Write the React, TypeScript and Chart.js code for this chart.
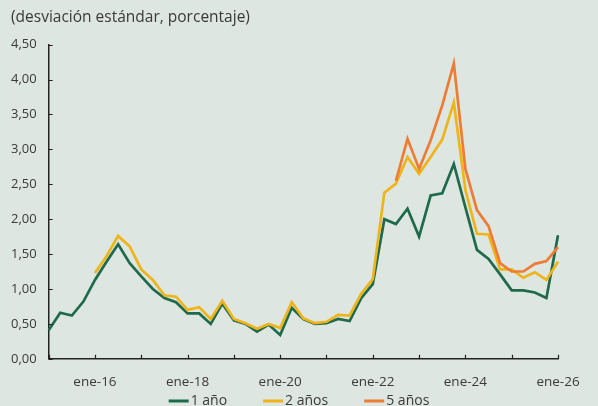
import React, { useEffect, useRef } from "react";
import { Chart, registerables } from "chart.js";

Chart.register(...registerables);

const years = ["15", "16", "17", "18", "19", "20", "21", "22", "23", "24", "25", "26"];
const months = ["ene", "abr", "jul", "oct"];
const categories: string[] = [];
years.forEach((y) => months.forEach((m) => categories.push(`${m}-${y}`)));
categories.splice(45); // ene-15 ... ene-26

const seriesNames = ["1 año", "2 años", "5 años"];

const oneYear = [
  0.41, 0.66, 0.62, 0.82, 1.13, 1.39, 1.64, 1.37, 1.18, 1.0, 0.87, 0.81,
  0.65, 0.65, 0.5, 0.79, 0.55, 0.5, 0.39, 0.49, 0.34, 0.73, 0.57, 0.5,
  0.51, 0.57, 0.54, 0.87, 1.07, 2.0, 1.93, 2.15, 1.75, 2.34, 2.37, 2.79,
  2.17, 1.56, 1.43, 1.21, 0.98, 0.98, 0.95, 0.87, 1.77,
];

const twoYears = [
  null, null, null, null, 1.23, 1.47, 1.76, 1.61, 1.28, 1.13, 0.91, 0.89,
  0.7, 0.74, 0.57, 0.83, 0.57, 0.51, 0.43, 0.5, 0.44, 0.81, 0.58, 0.51,
  0.53, 0.63, 0.62, 0.93, 1.14, 2.38, 2.51, 2.89, 2.65, 2.89, 3.14, 3.67,
  2.42, 1.79, 1.78, 1.28, 1.28, 1.16, 1.24, 1.13, 1.39,
];

const fiveYears = [
  null, null, null, null, null, null, null, null, null, null, null, null,
  null, null, null, null, null, null, null, null, null, null, null, null,
  null, null, null, null, null, null, 2.55, 3.15, 2.72, 3.13, 3.63, 4.23,
  2.72, 2.13, 1.9, 1.37, 1.25, 1.25, 1.36, 1.4, 1.6,
];

const colors = ["#1f6a4c", "#f0b41b", "#ee7c34"];
const BG = "#dde6e0";
const TEXT = "#3a3a3a";
const FONT = "'Open Sans', 'Noto Sans', sans-serif";

const bgPlugin = {
  id: "bgFill",
  beforeDraw(chart: any) {
    const { ctx, width, height } = chart;
    ctx.save();
    ctx.fillStyle = BG;
    ctx.fillRect(0, 0, width, height);
    ctx.restore();
  },
};

const innerTicksPlugin = {
  id: "innerTicks",
  afterDatasetsDraw(chart: any) {
    const { ctx, chartArea } = chart;
    const x = chart.scales.x;
    const y = chart.scales.y;
    ctx.save();
    ctx.strokeStyle = "#222";
    ctx.lineWidth = 1.2;
    ctx.beginPath();
    for (let i = 0; i < categories.length; i += 4) {
      const px = Math.round(x.getPixelForValue(i)) + 0.5;
      ctx.moveTo(px, chartArea.bottom);
      ctx.lineTo(px, chartArea.bottom - 4);
    }
    y.ticks.forEach((_t: any, i: number) => {
      const py = Math.round(y.getPixelForTick(i)) + 0.5;
      ctx.moveTo(chartArea.left, py);
      ctx.lineTo(chartArea.left + 4, py);
    });
    ctx.stroke();
    ctx.restore();
  },
};

const legendPlugin = {
  id: "lineLegend",
  afterDraw(chart: any) {
    const { ctx, width } = chart;
    const lineW = 20;
    const gapText = 2;
    const gapItems = 36;
    const yC = 401;
    ctx.save();
    ctx.font = `14px ${FONT}`;
    const widths = seriesNames.map((n) => lineW + gapText + ctx.measureText(n).width);
    const total = widths.reduce((a, b) => a + b, 0) + gapItems * (seriesNames.length - 1);
    let x0 = (width - total) / 2;
    seriesNames.forEach((name, i) => {
      ctx.strokeStyle = colors[i];
      ctx.lineWidth = 3;
      ctx.beginPath();
      ctx.moveTo(x0, yC);
      ctx.lineTo(x0 + lineW, yC);
      ctx.stroke();
      ctx.fillStyle = TEXT;
      ctx.textBaseline = "middle";
      ctx.textAlign = "left";
      ctx.fillText(name, x0 + lineW + gapText, yC);
      x0 += widths[i] + gapItems;
    });
    ctx.restore();
  },
};

export default function App() {
  const ref = useRef<HTMLCanvasElement | null>(null);

  useEffect(() => {
    document.body.style.margin = "0";
    document.body.style.background = BG;
    if (!ref.current) return;
    const chart = new Chart(ref.current, {
      type: "line",
      data: {
        labels: categories,
        datasets: [
          { label: seriesNames[0], data: oneYear, borderColor: colors[0], backgroundColor: colors[0], order: 3 },
          { label: seriesNames[1], data: twoYears, borderColor: colors[1], backgroundColor: colors[1], order: 2 },
          { label: seriesNames[2], data: fiveYears, borderColor: colors[2], backgroundColor: colors[2], order: 1 },
        ] as any,
      },
      options: {
        responsive: false,
        animation: false,
        devicePixelRatio: 1,
        elements: {
          line: { borderWidth: 2.7, tension: 0 },
          point: { radius: 0, hoverRadius: 0 },
        },
        layout: { padding: { left: 11, right: 40, top: 0, bottom: 16 } },
        plugins: {
          legend: { display: false },
          tooltip: { enabled: false },
          title: {
            display: true,
            text: "(desviación estándar, porcentaje)",
            align: "start",
            color: TEXT,
            font: { family: FONT, size: 15.5, weight: "normal" },
            padding: { top: 8, bottom: 18 },
          },
        },
        scales: {
          x: {
            type: "category",
            offset: false,
            grid: { display: true, drawOnChartArea: false, drawTicks: false },
            border: { display: true, color: "#222", width: 1.5 },
            ticks: {
              autoSkip: false,
              maxRotation: 0,
              minRotation: 0,
              padding: 15,
              color: TEXT,
              font: { family: FONT, size: 13.5 },
              callback: (_v: any, i: number) => (i % 8 === 4 ? categories[i] : null),
            },
            afterFit: (scale: any) => {
              scale.height = scale.height - scale.options.ticks.padding;
            },
          },
          y: {
            min: 0,
            max: 4.5,
            grid: { display: true, drawOnChartArea: false, drawTicks: false },
            border: { display: true, color: "#222", width: 1.5 },
            ticks: {
              stepSize: 0.5,
              padding: 12,
              color: TEXT,
              font: { family: FONT, size: 13 },
              callback: (v: any) => Number(v).toFixed(2).replace(".", ","),
            },
            afterFit: (scale: any) => {
              scale.width = scale.width - scale.options.ticks.padding;
            },
          },
        },
      },
      plugins: [bgPlugin, innerTicksPlugin, legendPlugin],
    });
    return () => chart.destroy();
  }, []);

  return (
    <div style={{ width: 598, height: 406, background: BG }}>
      <canvas ref={ref} width={598} height={406} style={{ display: "block" }} />
    </div>
  );
}
